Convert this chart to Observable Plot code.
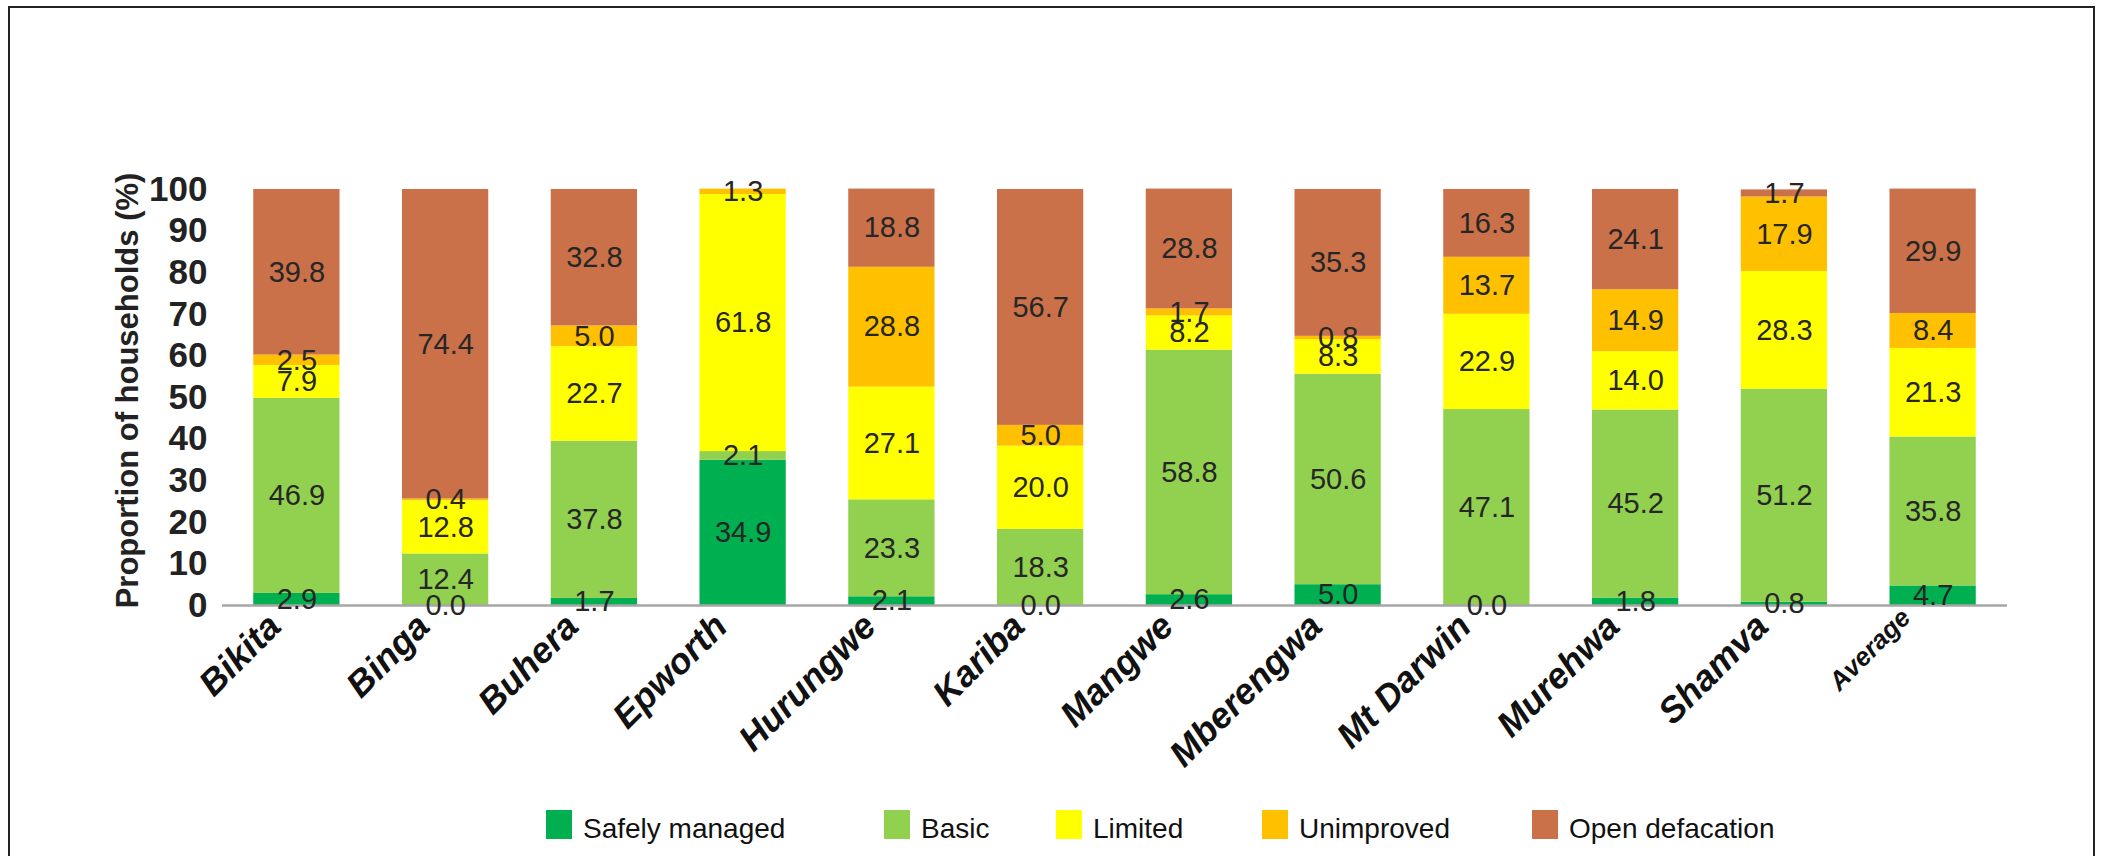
<!DOCTYPE html>
<html>
<head>
<meta charset="utf-8">
<script src="https://cdn.jsdelivr.net/npm/d3@7"></script>
<script src="https://cdn.jsdelivr.net/npm/@observablehq/plot@0.6"></script>
<style>
  html, body { margin: 0; padding: 0; background: #fff; overflow: hidden; }
  #wrap { position: relative; width: 2101px; height: 856px; font-family: "Liberation Sans", Arial, sans-serif; }
  #frame { position: absolute; left: 8px; top: 6px; width: 2087px; height: 900px; box-sizing: border-box; border: 2px solid #222; pointer-events: none; }
  #chart { position: absolute; left: 0; top: 0; }
  .key { position: absolute; top: 810px; display: flex; align-items: flex-start; }
  .key .sw { width: 26px; height: 29px; }
  .key .lb { position: absolute; top: 5px; font-size: 28px; line-height: 28px; color: #111; white-space: nowrap; }
</style>
</head>
<body>
<div id="wrap">
  <div id="chart"></div>
  <div id="legend"></div>
  <div id="frame"></div>
</div>
<script>
// Sanitation service level by district (% of households)
const districts = ["Bikita", "Binga", "Buhera", "Epworth", "Hurungwe", "Kariba", "Mangwe", "Mberengwa", "Mt Darwin", "Murehwa", "Shamva", "Average"];
const categories = ["Safely managed", "Basic", "Limited", "Unimproved", "Open defacation"];
const safelyManaged  = [2.9, 0.0, 1.7, 34.9, 2.1, 0.0, 2.6, 5.0, 0.0, 1.8, 0.8, 4.7];
const basic          = [46.9, 12.4, 37.8, 2.1, 23.3, 18.3, 58.8, 50.6, 47.1, 45.2, 51.2, 35.8];
const limited        = [7.9, 12.8, 22.7, 61.8, 27.1, 20.0, 8.2, 8.3, 22.9, 14.0, 28.3, 21.3];
const unimproved     = [2.5, 0.4, 5.0, 1.3, 28.8, 5.0, 1.7, 0.8, 13.7, 14.9, 17.9, 8.4];
const openDefecation = [39.8, 74.4, 32.8, null, 18.8, 56.7, 28.8, 35.3, 16.3, 24.1, 1.7, 29.9];
const yTicks = [0, 10, 20, 30, 40, 50, 60, 70, 80, 90, 100];
const yTitle = "Proportion of households (%)";

const seriesColors = ["#00b050", "#92d050", "#ffff00", "#ffc000", "#ca7149"];
const legendLeft = [546, 884, 1056, 1262, 1532];

// long table, series-major so the stack order runs bottom-to-top
const series = [safelyManaged, basic, limited, unimproved, openDefecation];
const rows = [];
series.forEach((vals, i) => {
  vals.forEach((v, j) => {
    if (v != null) rows.push({district: districts[j], category: categories[i], value: v});
  });
});

const districtNames = districts.filter(d => d !== "Average");

const chart = Plot.plot({
  width: 2101,
  height: 856,
  marginTop: 189,
  marginBottom: 251,
  marginLeft: 222,
  marginRight: 94,
  style: {fontFamily: "'Liberation Sans', Arial, sans-serif", background: "transparent", overflow: "visible"},
  x: {domain: districts, paddingInner: 0.42, paddingOuter: 0.21, round: false, axis: null},
  y: {domain: [0, 100], axis: null},
  color: {domain: categories, range: seriesColors},
  marks: [
    Plot.barY(rows, {x: "district", y: "value", fill: "category", z: "category"}),
    Plot.ruleY([0], {stroke: "#a6a6a6", strokeWidth: 2.5}),
    Plot.text(rows, Plot.stackY({
      x: "district", y: "value", z: "category",
      text: d => d.value.toFixed(1),
      fill: "#262626", fontSize: 29, lineAnchor: "middle"
    })),
    // y tick labels
    Plot.text(yTicks, {
      y: d => d, text: d => String(d), frameAnchor: "left", dx: -15,
      textAnchor: "end", lineAnchor: "middle",
      fontSize: 35, fontWeight: "bold", fill: "#222"
    }),
    // y title
    Plot.text([yTitle], {
      text: d => d, frameAnchor: "left", dx: -85, dy: -7, rotate: -90,
      textAnchor: "middle", lineAnchor: "bottom",
      fontSize: 31, fontWeight: "bold", fill: "#222"
    }),
    // category labels
    Plot.text(districtNames, {
      x: d => d, text: d => d, frameAnchor: "bottom", dx: -22, dy: 15, rotate: -45,
      textAnchor: "end", lineAnchor: "middle",
      fontSize: 36, fontWeight: "bold", fontStyle: "italic", fill: "#111"
    }),
    Plot.text(["Average"], {
      x: d => d, text: d => d, frameAnchor: "bottom", dx: -27, dy: 8, rotate: -45,
      textAnchor: "end", lineAnchor: "middle",
      fontSize: 26, fontWeight: "bold", fontStyle: "italic", fill: "#111"
    })
  ]
});
document.getElementById("chart").appendChild(chart);

// legend
const legend = document.getElementById("legend");
categories.forEach((c, i) => {
  const item = document.createElement("div");
  item.className = "key";
  item.style.left = legendLeft[i] + "px";
  const sw = document.createElement("div");
  sw.className = "sw";
  sw.style.background = seriesColors[i];
  const lb = document.createElement("div");
  lb.className = "lb";
  lb.style.left = "37px";
  lb.textContent = c;
  item.appendChild(sw);
  item.appendChild(lb);
  legend.appendChild(item);
});
</script>
</body>
</html>
